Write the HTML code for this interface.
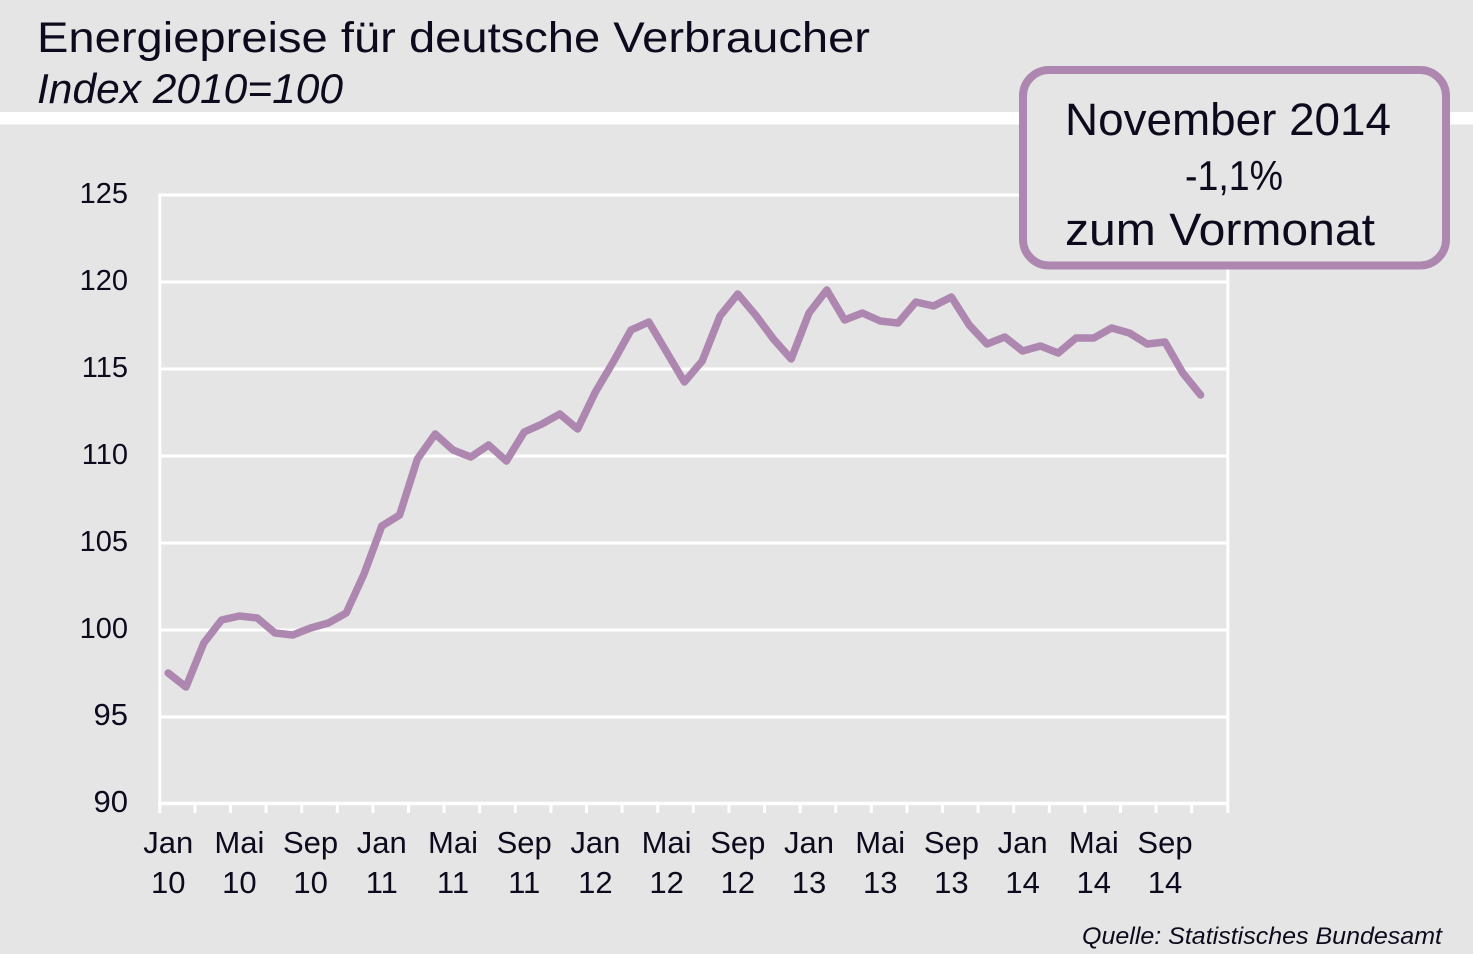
<!DOCTYPE html>
<html>
<head>
<meta charset="utf-8">
<style>
html,body{margin:0;padding:0;background:#e5e5e5;}
svg{display:block;}
text{font-family:"Liberation Sans",sans-serif;fill:#0c0a1c;}
</style>
</head>
<body>
<svg width="1473" height="954" viewBox="0 0 1473 954" xmlns="http://www.w3.org/2000/svg">
<rect x="0" y="0" width="1473" height="954" fill="#e5e5e5"/>
<!-- white band -->
<rect x="0" y="112" width="1473" height="12.5" fill="#ffffff"/>

<!-- title -->
<text x="37" y="52" font-size="43" textLength="833" lengthAdjust="spacingAndGlyphs">Energiepreise für deutsche Verbraucher</text>
<text x="37" y="103" font-size="42" font-style="italic" textLength="306" lengthAdjust="spacingAndGlyphs">Index 2010=100</text>

<!-- gridlines -->
<g stroke="#ffffff" stroke-width="3">
<line x1="159.3" y1="195" x2="1228" y2="195"/>
<line x1="159.3" y1="282" x2="1228" y2="282"/>
<line x1="159.3" y1="369" x2="1228" y2="369"/>
<line x1="159.3" y1="456" x2="1228" y2="456"/>
<line x1="159.3" y1="543" x2="1228" y2="543"/>
<line x1="159.3" y1="630" x2="1228" y2="630"/>
<line x1="159.3" y1="717" x2="1228" y2="717"/>
<line x1="158" y1="803.5" x2="1229" y2="803.5" stroke-width="3.5"/>
<line x1="159.8" y1="193.5" x2="159.8" y2="813"/>
<line x1="1227.8" y1="193.5" x2="1227.8" y2="813"/>
</g>
<!-- ticks -->
<g stroke="#ffffff" stroke-width="3">
<line x1="194.9" y1="803" x2="194.9" y2="813"/>
<line x1="230.5" y1="803" x2="230.5" y2="813"/>
<line x1="266.1" y1="803" x2="266.1" y2="813"/>
<line x1="301.7" y1="803" x2="301.7" y2="813"/>
<line x1="337.3" y1="803" x2="337.3" y2="813"/>
<line x1="372.9" y1="803" x2="372.9" y2="813"/>
<line x1="408.5" y1="803" x2="408.5" y2="813"/>
<line x1="444.1" y1="803" x2="444.1" y2="813"/>
<line x1="479.7" y1="803" x2="479.7" y2="813"/>
<line x1="515.3" y1="803" x2="515.3" y2="813"/>
<line x1="550.9" y1="803" x2="550.9" y2="813"/>
<line x1="586.5" y1="803" x2="586.5" y2="813"/>
<line x1="622.1" y1="803" x2="622.1" y2="813"/>
<line x1="657.7" y1="803" x2="657.7" y2="813"/>
<line x1="693.3" y1="803" x2="693.3" y2="813"/>
<line x1="728.9" y1="803" x2="728.9" y2="813"/>
<line x1="764.5" y1="803" x2="764.5" y2="813"/>
<line x1="800.1" y1="803" x2="800.1" y2="813"/>
<line x1="835.7" y1="803" x2="835.7" y2="813"/>
<line x1="871.3" y1="803" x2="871.3" y2="813"/>
<line x1="906.9" y1="803" x2="906.9" y2="813"/>
<line x1="942.5" y1="803" x2="942.5" y2="813"/>
<line x1="978.1" y1="803" x2="978.1" y2="813"/>
<line x1="1013.7" y1="803" x2="1013.7" y2="813"/>
<line x1="1049.3" y1="803" x2="1049.3" y2="813"/>
<line x1="1084.9" y1="803" x2="1084.9" y2="813"/>
<line x1="1120.5" y1="803" x2="1120.5" y2="813"/>
<line x1="1156.1" y1="803" x2="1156.1" y2="813"/>
<line x1="1191.7" y1="803" x2="1191.7" y2="813"/>
</g>

<!-- y labels -->
<g text-anchor="end">
<text x="128" y="203" font-size="29">125</text>
<text x="128" y="290" font-size="29">120</text>
<text x="128" y="377" font-size="29">115</text>
<text x="128" y="464" font-size="29">110</text>
<text x="128" y="551" font-size="29">105</text>
<text x="128" y="638" font-size="29">100</text>
<text x="128" y="725" font-size="31">95</text>
<text x="128" y="812" font-size="31">90</text>
</g>

<!-- x labels -->
<g font-size="31" text-anchor="middle">
<text x="168.2" y="853">Jan</text><text x="168.2" y="893">10</text>
<text x="239.4" y="853">Mai</text><text x="239.4" y="893">10</text>
<text x="310.6" y="853">Sep</text><text x="310.6" y="893">10</text>
<text x="381.8" y="853">Jan</text><text x="381.8" y="893">11</text>
<text x="453.0" y="853">Mai</text><text x="453.0" y="893">11</text>
<text x="524.2" y="853">Sep</text><text x="524.2" y="893">11</text>
<text x="595.4" y="853">Jan</text><text x="595.4" y="893">12</text>
<text x="666.6" y="853">Mai</text><text x="666.6" y="893">12</text>
<text x="737.8" y="853">Sep</text><text x="737.8" y="893">12</text>
<text x="809.0" y="853">Jan</text><text x="809.0" y="893">13</text>
<text x="880.2" y="853">Mai</text><text x="880.2" y="893">13</text>
<text x="951.4" y="853">Sep</text><text x="951.4" y="893">13</text>
<text x="1022.6" y="853">Jan</text><text x="1022.6" y="893">14</text>
<text x="1093.8" y="853">Mai</text><text x="1093.8" y="893">14</text>
<text x="1165.0" y="853">Sep</text><text x="1165.0" y="893">14</text>
</g>

<!-- data line -->
<polyline fill="none" stroke="#ad87b0" stroke-width="7.5" stroke-linejoin="round" stroke-linecap="round"
points="168.2,673 186.0,687 203.8,643 221.6,620 239.4,616 257.2,618 275.0,633 292.8,635 310.6,628 328.4,623 346.2,613 364.0,574 381.8,526 399.6,515 417.4,459 435.2,434 453.0,450 470.8,457 488.6,445 506.4,461 524.2,432 542.0,424 559.8,414 577.6,429 595.4,392 613.2,362 631.0,330 648.8,322 666.6,352 684.4,382 702.2,361 720.0,316 737.8,294 755.6,315 773.4,339 791.2,359 809.0,313 826.8,290 844.6,320 862.4,313 880.2,321 898.0,323 915.8,302 933.6,306 951.4,297 969.2,325 987.0,344 1004.8,337 1022.6,351 1040.4,346 1058.2,353 1076.0,338 1093.8,338 1111.6,328 1129.4,333 1147.2,344 1165.0,342 1182.8,373 1200.6,395"/>

<!-- info box -->
<rect x="1023" y="70" width="423" height="195.5" rx="26" ry="26" fill="#e5e5e5" stroke="#ad87b0" stroke-width="8"/>
<text x="1065" y="135" font-size="45" textLength="326" lengthAdjust="spacingAndGlyphs">November 2014</text>
<text x="1234" y="190" font-size="42" text-anchor="middle" textLength="98" lengthAdjust="spacingAndGlyphs">-1,1%</text>
<text x="1065" y="245" font-size="45" textLength="310" lengthAdjust="spacingAndGlyphs">zum Vormonat</text>

<!-- source -->
<text x="1442" y="944" font-size="24" font-style="italic" text-anchor="end" textLength="360" lengthAdjust="spacingAndGlyphs">Quelle: Statistisches Bundesamt</text>
</svg>
</body>
</html>
